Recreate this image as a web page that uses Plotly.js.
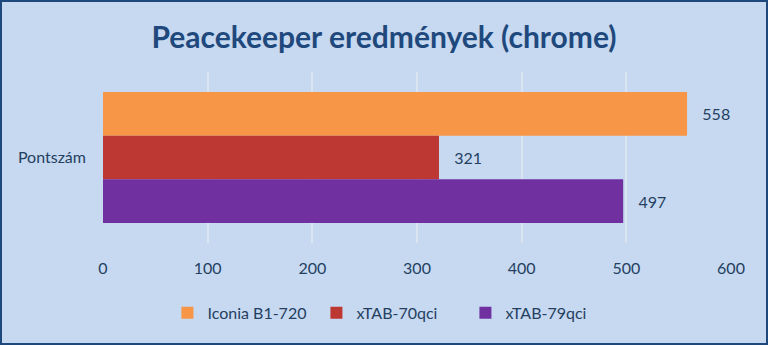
<!DOCTYPE html>
<html>
<head>
<meta charset="utf-8">
<script src="https://cdn.plot.ly/plotly-3.0.1.min.js"></script>
<style>
html,body{margin:0;padding:0;background:#c6d9f1;}
#wrap{position:relative;width:768px;height:345px;}
#chart{position:absolute;left:0;top:0;width:768px;height:345px;}
#frame{position:absolute;left:0;top:0;width:768px;height:345px;box-sizing:border-box;border:2px solid #1f497d;pointer-events:none;}
</style>
</head>
<body>
<div id="wrap"><div id="chart"></div><div id="frame"></div></div>
<script>
const categories = ["Pontszám"];
const seriesNames = ["Iconia B1-720", "xTAB-70qci", "xTAB-79qci"];
const seriesValues = [[558], [321], [497]];
const seriesColors = ["#f79646", "#bd3733", "#7030a0"];
const xTicks = [0, 100, 200, 300, 400, 500, 600];

const textColor = "#243f60";
const font = "Lato, 'Open Sans', sans-serif";

const traces = seriesNames.map((name, i) => ({
  type: "bar",
  orientation: "h",
  name: name,
  y: categories,
  x: seriesValues[i],
  marker: {color: seriesColors[i], line: {width: 0}},
  text: seriesValues[i].map(v => "\u00a0\u00a0\u00a0" + v),
  textposition: "outside",
  cliponaxis: false,
  textfont: {family: font, size: 16, color: textColor},
  hoverinfo: "x+name"
}));

const layout = {
  width: 768,
  height: 345,
  paper_bgcolor: "#c6d9f1",
  plot_bgcolor: "#c6d9f1",
  margin: {l: 103, r: 37, t: 72, b: 102},
  title: {
    text: "<b>Peacekeeper eredmények (chrome)</b>",
    font: {family: font, size: 30, color: "#1f497d"},
    x: 0.5, xanchor: "center", xref: "container",
    y: 0.89, yanchor: "middle"
  },
  barmode: "group",
  bargap: 0.234,
  bargroupgap: 0,
  showlegend: true,
  legend: {
    orientation: "h",
    xref: "container", yref: "container",
    x: 0.218, xanchor: "left",
    y: 0.093, yanchor: "middle",
    font: {family: font, size: 16, color: textColor},
    entrywidth: 104,
    bgcolor: "rgba(0,0,0,0)",
    traceorder: "normal"
  },
  xaxis: {
    range: [0, 600],
    tickvals: xTicks,
    ticktext: xTicks.map(String),
    showgrid: true,
    gridcolor: "#dbe5f1",
    gridwidth: 2,
    zeroline: false,
    showline: false,
    ticks: "",
    ticklabelstandoff: 14,
    tickfont: {family: font, size: 16, color: textColor},
    fixedrange: true
  },
  yaxis: {
    autorange: "reversed",
    showgrid: false,
    zeroline: false,
    showline: false,
    ticks: "",
    ticklabelstandoff: 16,
    tickfont: {family: font, size: 16, color: textColor},
    fixedrange: true
  }
};

Plotly.newPlot("chart", traces, layout, {displayModeBar: false, staticPlot: true});
</script>
</body>
</html>
